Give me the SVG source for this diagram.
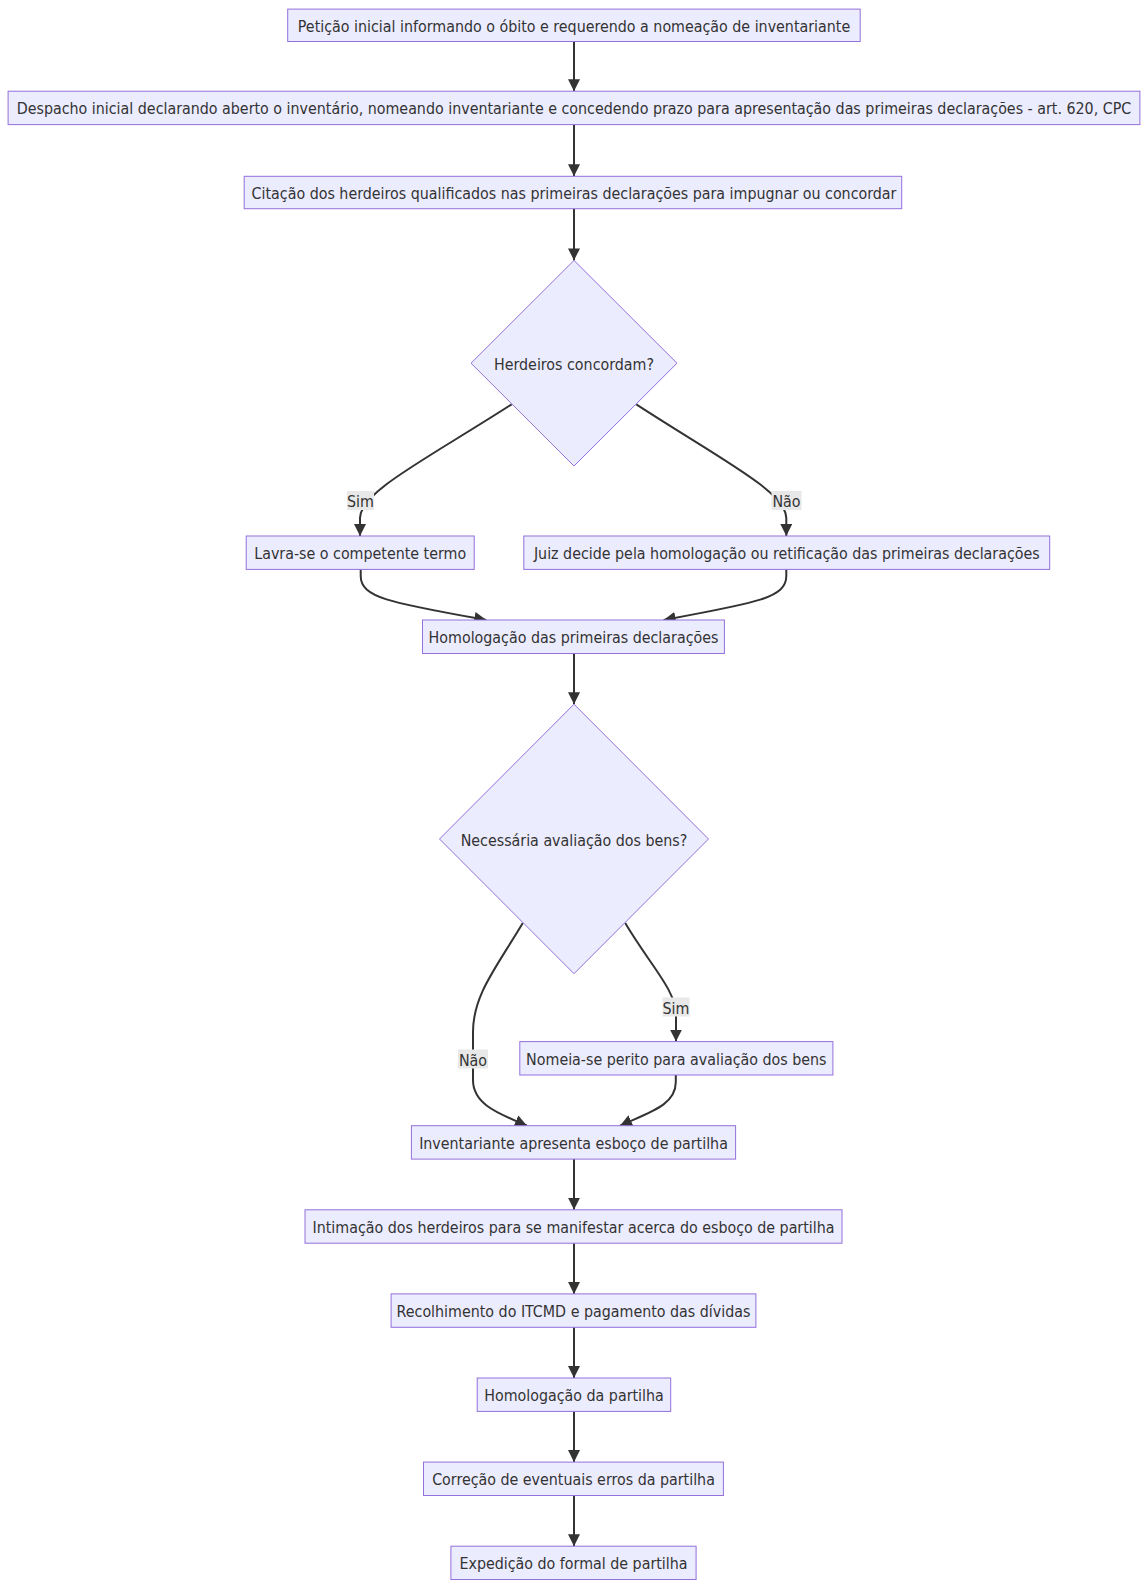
<svg xmlns="http://www.w3.org/2000/svg" width="1148" height="1589" viewBox="0 0 1148 1589">
<style>
.node rect,.node polygon{fill:#ECECFF;stroke:#9370DB;stroke-width:1}
.node text,.elabel text{font-family:"DejaVu Sans Condensed","DejaVu Sans",sans-serif;font-stretch:condensed;font-size:15.85px;fill:#333;text-anchor:middle;dominant-baseline:central}
.edge{fill:none;stroke:#333;stroke-width:2;marker-end:url(#arrow)}
.elabel rect{fill:#e8e8e8}
</style>
<defs>
<marker id="arrow" viewBox="0 0 10 10" refX="10" refY="5" markerUnits="userSpaceOnUse" markerWidth="12" markerHeight="12" orient="auto">
<path d="M0,0 L10,5 L0,10 z" fill="#333"/>
</marker>
</defs>
<rect width="1148" height="1589" fill="#fff"/>
<g id="connectors">
<path class="edge" d="M574,41.5 L574,91.2"/>
<path class="edge" d="M574,124.6 L574,176.3"/>
<path class="edge" d="M574,208.7 L574,260.4"/>
<path class="edge" d="M511.7,404.3 C425,460 360,492 360,518 L360,536"/>
<path class="edge" d="M636.3,404.3 C722,460 786.3,492 786.3,518 L786.3,536"/>
<path class="edge" d="M360.7,569.4 L360.7,576 C360.7,598 392,603 486.3,620"/>
<path class="edge" d="M786.3,569.4 L786.3,576 C786.3,598 756,603 663.6,620"/>
<path class="edge" d="M574,653.5 L574,704.2"/>
<path class="edge" d="M522.8,923 C496,968 473,995 473,1032 L473,1080 C473,1105 500,1114 527,1125.7"/>
<path class="edge" d="M625.2,923 C650,965 676,990 676,1015 L676,1041.6"/>
<path class="edge" d="M675.8,1075 L675.8,1082 C675.8,1105 650,1112 620,1125.7"/>
<path class="edge" d="M574,1159.1 L574,1209.8"/>
<path class="edge" d="M574,1243.2 L574,1293.9"/>
<path class="edge" d="M574,1327.3 L574,1378"/>
<path class="edge" d="M574,1411.4 L574,1462.1"/>
<path class="edge" d="M574,1495.5 L574,1546.2"/>
</g>
<g id="edge-labels">
<g class="elabel"><rect x="347" y="491" width="27" height="19"/><text x="360.5" y="501.5">Sim</text></g>
<g class="elabel"><rect x="771.5" y="491" width="30" height="19"/><text x="786.5" y="501.5">Não</text></g>
<g class="elabel"><rect x="662.5" y="997.5" width="27" height="19"/><text x="676" y="1008">Sim</text></g>
<g class="elabel"><rect x="458" y="1049.5" width="30" height="19"/><text x="473" y="1060">Não</text></g>
</g>
<g id="n1" class="node"><rect x="287.7" y="9.1" width="572.5" height="32.4"/><text x="574" y="26.3">Petição inicial informando o óbito e requerendo a nomeação de inventariante</text></g>
<g id="n2" class="node"><rect x="8.1" y="91.2" width="1131.8" height="33.4"/><text x="574" y="108.9">Despacho inicial declarando aberto o inventário, nomeando inventariante e concedendo prazo para apresentação das primeiras declarações - art. 620, CPC</text></g>
<g id="n3" class="node"><rect x="244.2" y="176.3" width="657.5" height="32.4"/><text x="574" y="193.5">Citação dos herdeiros qualificados nas primeiras declarações para impugnar ou concordar</text></g>
<g id="n4" class="node"><polygon points="574,260.4 677,363.2 574,466 471,363.2"/><text x="574" y="364.2">Herdeiros concordam?</text></g>
<g id="n5" class="node"><rect x="246.2" y="536" width="228" height="33.4"/><text x="360.2" y="553.7">Lavra-se o competente termo</text></g>
<g id="n6" class="node"><rect x="523.8" y="536" width="525.9" height="33.4"/><text x="786.8" y="553.7">Juiz decide pela homologação ou retificação das primeiras declarações</text></g>
<g id="n7" class="node"><rect x="422.5" y="620" width="301.9" height="33.5"/><text x="573.5" y="637.8">Homologação das primeiras declarações</text></g>
<g id="n8" class="node"><polygon points="574,704.2 708.5,839 574,973.7 439.5,839"/><text x="574" y="840">Necessária avaliação dos bens?</text></g>
<g id="n9" class="node"><rect x="519.8" y="1041.6" width="313.1" height="33.4"/><text x="676.3" y="1059.3">Nomeia-se perito para avaliação dos bens</text></g>
<g id="n10" class="node"><rect x="411.4" y="1125.7" width="324.2" height="33.4"/><text x="573.5" y="1143.4">Inventariante apresenta esboço de partilha</text></g>
<g id="n11" class="node"><rect x="305" y="1209.8" width="537" height="33.4"/><text x="573.5" y="1227.5">Intimação dos herdeiros para se manifestar acerca do esboço de partilha</text></g>
<g id="n12" class="node"><rect x="391.1" y="1293.9" width="364.8" height="33.4"/><text x="573.5" y="1311.6">Recolhimento do ITCMD e pagamento das dívidas</text></g>
<g id="n13" class="node"><rect x="477.2" y="1378" width="193.5" height="33.4"/><text x="574" y="1395.7">Homologação da partilha</text></g>
<g id="n14" class="node"><rect x="423.5" y="1462.1" width="299.9" height="33.4"/><text x="573.5" y="1479.8">Correção de eventuais erros da partilha</text></g>
<g id="n15" class="node"><rect x="450.9" y="1546.2" width="245.2" height="33.3"/><text x="573.5" y="1563.9">Expedição do formal de partilha</text></g>
</svg>
